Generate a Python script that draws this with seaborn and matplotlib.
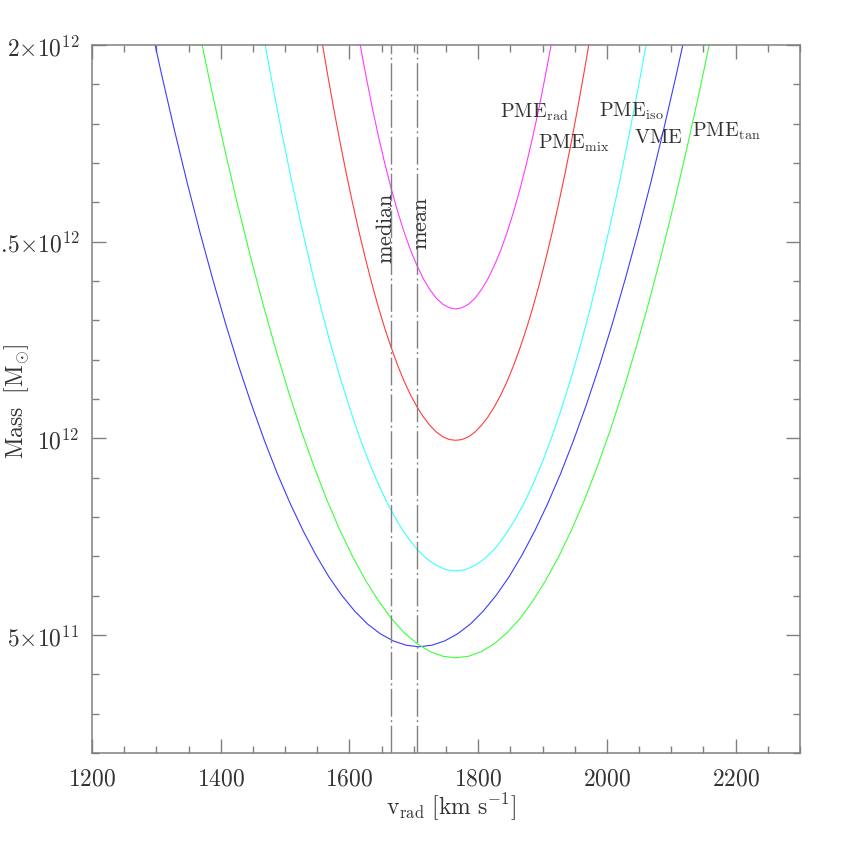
import matplotlib
matplotlib.use("Agg")
import matplotlib.pyplot as plt
import seaborn as sns
import pandas as pd
from matplotlib.ticker import FixedLocator, MultipleLocator

sns.set_style("ticks")
plt.rcParams["mathtext.fontset"] = "cm"
plt.rcParams["font.family"] = ["cmr10", "DejaVu Serif"]
plt.rcParams["axes.formatter.use_mathtext"] = True

# ---- data (mass in units of 1e12 Msun, v in km/s) ----
v_rad = [1615, 1625, 1635, 1645, 1655, 1665, 1675, 1685, 1695, 1705, 1715,
         1725, 1735, 1745, 1755, 1765, 1775, 1785, 1795, 1805, 1815, 1825,
         1835, 1845, 1855, 1865, 1875, 1885, 1895, 1905, 1915]
m_rad = [2.015, 1.927, 1.844, 1.768, 1.698, 1.634, 1.576, 1.524, 1.478, 1.439,
         1.405, 1.378, 1.356, 1.341, 1.332, 1.329, 1.332, 1.341, 1.356, 1.378,
         1.405, 1.439, 1.478, 1.524, 1.576, 1.634, 1.698, 1.768, 1.844, 1.927,
         2.015]

v_mix = [1555, 1565, 1575, 1585, 1595, 1605, 1615, 1625, 1635, 1645, 1655,
         1665, 1675, 1685, 1695, 1705, 1715, 1725, 1735, 1745, 1755, 1765,
         1775, 1785, 1795, 1805, 1815, 1825, 1835, 1845, 1855, 1865, 1875,
         1885, 1895, 1905, 1915, 1925, 1935, 1945, 1955, 1965, 1975]
m_mix = [2.031, 1.935, 1.843, 1.756, 1.674, 1.597, 1.524, 1.456, 1.392, 1.333,
         1.279, 1.230, 1.185, 1.145, 1.110, 1.080, 1.054, 1.033, 1.016, 1.004,
         0.997, 0.995, 0.997, 1.004, 1.016, 1.033, 1.054, 1.080, 1.110, 1.145,
         1.185, 1.230, 1.279, 1.333, 1.392, 1.456, 1.524, 1.597, 1.674, 1.756,
         1.843, 1.935, 2.031]

v_iso = [1465, 1480, 1495, 1510, 1525, 1540, 1555, 1570, 1585, 1600, 1615,
         1630, 1645, 1660, 1675, 1690, 1705, 1720, 1735, 1750, 1765, 1780,
         1795, 1810, 1825, 1840, 1855, 1870, 1885, 1900, 1915, 1930, 1945,
         1960, 1975, 1990, 2005, 2020, 2035, 2050, 2065]
m_iso = [2.036, 1.903, 1.776, 1.655, 1.542, 1.436, 1.336, 1.243, 1.157, 1.079,
         1.006, 0.941, 0.883, 0.831, 0.787, 0.749, 0.718, 0.694, 0.677, 0.666,
         0.663, 0.666, 0.677, 0.694, 0.718, 0.749, 0.787, 0.831, 0.883, 0.941,
         1.006, 1.079, 1.157, 1.243, 1.336, 1.436, 1.542, 1.655, 1.776, 1.903,
         2.036]

v_tan = [1365, 1385, 1405, 1425, 1445, 1465, 1485, 1505, 1525, 1545, 1565,
         1585, 1605, 1625, 1645, 1665, 1685, 1705, 1725, 1745, 1765, 1785,
         1805, 1825, 1845, 1865, 1885, 1905, 1925, 1945, 1965, 1985, 2005,
         2025, 2045, 2065, 2085, 2105, 2125, 2145, 2165]
m_tan = [2.048, 1.891, 1.743, 1.602, 1.470, 1.345, 1.229, 1.120, 1.020, 0.928,
         0.843, 0.767, 0.699, 0.639, 0.587, 0.542, 0.506, 0.478, 0.458, 0.446,
         0.442, 0.446, 0.458, 0.478, 0.506, 0.542, 0.587, 0.639, 0.699, 0.767,
         0.843, 0.928, 1.020, 1.120, 1.229, 1.345, 1.470, 1.602, 1.743, 1.891,
         2.048]

v_vme = [1288, 1308, 1328, 1348, 1368, 1388, 1408, 1428, 1448, 1468, 1488,
         1508, 1528, 1548, 1568, 1588, 1608, 1628, 1648, 1668, 1688, 1708,
         1728, 1748, 1768, 1788, 1808, 1828, 1848, 1868, 1888, 1908, 1928,
         1948, 1968, 1988, 2008, 2028, 2048, 2068, 2088, 2108, 2128]
m_vme = [2.075, 1.926, 1.784, 1.649, 1.522, 1.402, 1.289, 1.183, 1.085, 0.994,
         0.910, 0.834, 0.765, 0.703, 0.648, 0.601, 0.561, 0.528, 0.503, 0.485,
         0.474, 0.470, 0.474, 0.485, 0.503, 0.528, 0.561, 0.601, 0.648, 0.703,
         0.765, 0.834, 0.910, 0.994, 1.085, 1.183, 1.289, 1.402, 1.522, 1.649,
         1.784, 1.926, 2.075]

v_median = 1665
v_mean = 1705

curve_names = ["VME", "PME_tan", "PME_iso", "PME_mix", "PME_rad"]
curve_colors = ["#3c3cff", "#3cff3c", "#3cffff", "#ff3c3c", "#ff3cff"]
label_texts = [r"$\mathrm{VME}$", r"$\mathrm{PME}_{\mathrm{tan}}$",
               r"$\mathrm{PME}_{\mathrm{iso}}$", r"$\mathrm{PME}_{\mathrm{mix}}$",
               r"$\mathrm{PME}_{\mathrm{rad}}$"]
label_x = [2042, 2132, 1988, 1893, 1834]
label_y = [1.753, 1.770, 1.820, 1.740, 1.817]

ytick_vals = [0.5, 1.0, 1.5, 2.0]
ytick_labels = [r"$5{\times}10^{11}$", r"$10^{12}$", r"$1.5{\times}10^{12}$",
                r"$2{\times}10^{12}$"]
xtick_vals = [1200, 1400, 1600, 1800, 2000, 2200]

# ---- build table ----
frames = []
for name, vv, mm in zip(curve_names, [v_vme, v_tan, v_iso, v_mix, v_rad],
                        [m_vme, m_tan, m_iso, m_mix, m_rad]):
    frames.append(pd.DataFrame({"v": vv, "M": mm, "curve": name}))
df = pd.concat(frames, ignore_index=True)

fig = plt.figure(figsize=(8.45, 8.45), dpi=100)
ax = fig.add_axes([92 / 845, 91 / 845, 708 / 845, 708 / 845])

sns.lineplot(data=df, x="v", y="M", hue="curve", hue_order=curve_names,
             palette=dict(zip(curve_names, curve_colors)), sort=False,
             linewidth=0.8, legend=False, ax=ax, estimator=None)

gray = "#808080"
for xv in [v_median, v_mean]:
    ax.axvline(xv, color=gray, linewidth=1.0,
               linestyle=(0, (20, 2.5, 1.5, 2.5)))

ax.set_xlim(1200, 2300)
ax.set_ylim(0.2, 2.0)

ax.xaxis.set_major_locator(FixedLocator(xtick_vals))
ax.xaxis.set_minor_locator(MultipleLocator(50))
ax.yaxis.set_major_locator(FixedLocator(ytick_vals))
ax.set_yticklabels(ytick_labels)
ax.yaxis.set_minor_locator(MultipleLocator(0.1))
ax.set_xticklabels([rf"${t}$" for t in xtick_vals])

ax.tick_params(which="both", direction="in", top=True, right=True,
               color=gray, width=1.0, labelsize=17, labelcolor="#333333")
ax.tick_params(which="major", length=10)
ax.tick_params(which="minor", length=5)
ax.tick_params(axis="x", which="major", pad=10)
ax.tick_params(axis="y", which="major", pad=9)
for s in ax.spines.values():
    s.set_color(gray)
    s.set_linewidth(1.1)
ax.set_xlabel("")
ax.set_ylabel("")

for t, xx, yy in zip(label_texts, label_x, label_y):
    ax.text(xx, yy, t, fontsize=14.5, color="#333333", ha="left", va="baseline")

ax.text(1657, 1.537, r"$\mathrm{median}$", rotation=90, fontsize=16,
        color="#333333", ha="center", va="center")
ax.text(1711, 1.550, r"$\mathrm{mean}$", rotation=90, fontsize=16,
        color="#333333", ha="center", va="center")

fig.text(451 / 845, 1 - 807 / 845,
         r"$\mathrm{v}_{\mathrm{rad}}\ [\mathrm{km\ s^{-1}}]$",
         fontsize=17, color="#333333", ha="center", va="center")
fig.text(17 / 845, 1 - 401 / 845, r"$\mathrm{Mass\ \ [M}_{\odot}\mathrm{]}$",
         fontsize=17, color="#333333", ha="center", va="center", rotation=90)

fig.savefig("out.png", dpi=100)
